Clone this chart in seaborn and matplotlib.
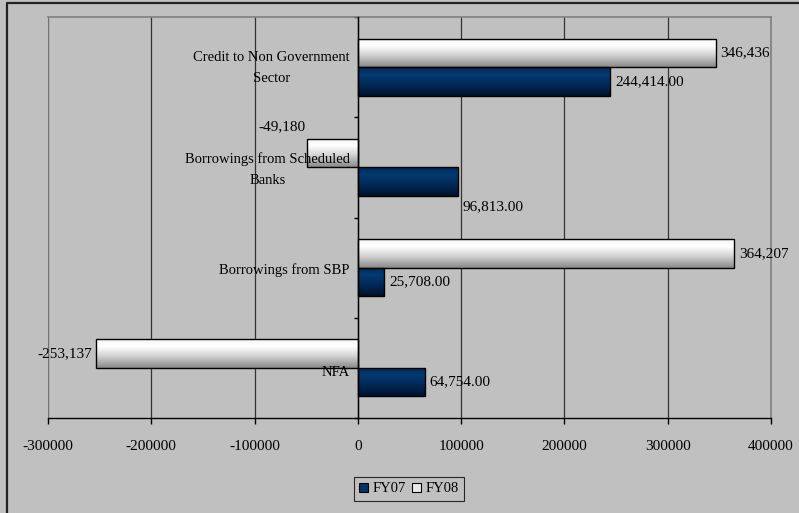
import numpy as np
import pandas as pd
import matplotlib
matplotlib.use("Agg")
import matplotlib.pyplot as plt
from matplotlib.patches import Patch
from matplotlib.lines import Line2D
import seaborn as sns

# ---- data ----
categories = ["Credit to Non Government\nSector", "Borrowings from Scheduled\nBanks",
              "Borrowings from SBP", "NFA"]
fy07 = [244414.00, 96813.00, 25708.00, 64754.00]
fy08 = [346436, -49180, 364207, -253137]
series = ["FY07", "FY08"]
xticks = [-300000, -200000, -100000, 0, 100000, 200000, 300000, 400000]

sns.set_theme(style="white")
plt.rcParams['font.family'] = ['Liberation Serif', 'DejaVu Serif']
plt.rcParams['text.color'] = 'black'
plt.rcParams['xtick.color'] = 'black'
plt.rcParams['ytick.color'] = 'black'

BG = "#C0C0C0"
df = pd.DataFrame({
    "cat": categories * 2,
    "val": fy07 + fy08,
    "series": ["FY07"] * 4 + ["FY08"] * 4,
})

fig = plt.figure(figsize=(7.99, 5.13), dpi=100, facecolor=BG)
ax = fig.add_axes([48/799, 1-418/513, (771-48)/799, (418-17)/513])
ax.set_facecolor(BG)

hue_order = ["FY08", "FY07"]
sns.barplot(data=df, y="cat", x="val", hue="series", hue_order=hue_order,
            order=categories, orient="h", width=0.57,
            palette={"FY07": "#003366", "FY08": "#F0F0F0"},
            edgecolor="black", linewidth=1.0, legend=False, ax=ax, zorder=3)

# gradients
def grad_img(stops):
    t = np.linspace(0, 1, 64)
    pos = [s[0] for s in stops]
    cols = np.array([matplotlib.colors.to_rgb(s[1]) for s in stops])
    img = np.stack([np.interp(t, pos, cols[:, k]) for k in range(3)], axis=1)
    return img[:, None, :]

grads = {
    "FY08": grad_img([(0, "#F4F4F4"), (0.25, "#FFFFFF"), (0.55, "#D8D8D8"), (1.0, "#8A8A8A")]),
    "FY07": grad_img([(0, "#002A58"), (0.25, "#043B72"), (0.6, "#002A58"), (1.0, "#00112A")]),
}

label_info = {}
for hue, cont in zip(hue_order, ax.containers):
    for i, bar in enumerate(cont):
        x0, y0 = bar.get_x(), bar.get_y()
        w, h = bar.get_width(), bar.get_height()
        xl, xr = min(x0, x0 + w), max(x0, x0 + w)
        im = ax.imshow(grads[hue], extent=(xl, xr, y0 + h, y0), origin="upper",
                       aspect="auto", zorder=3, interpolation="bilinear")
        im.set_clip_path(bar)
        bar.set_facecolor("none")
        bar.set_zorder(4)
        label_info[(hue, i)] = (x0 + w, y0 + h / 2)

ax.set_xlim(-300000, 400000)
ax.set_ylim(3.5, -0.5)

# data labels
offsets = {
    ("FY08", 1): (-2, 26, "right"),
    ("FY07", 1): (5, -25, "left"),
}
vals = {"FY07": fy07, "FY08": fy08}
for (hue, i), (xe, yc) in label_info.items():
    v = vals[hue][i]
    txt = f"{v:,.2f}" if hue == "FY07" else f"{v:,.0f}"
    if (hue, i) in offsets:
        dx, dy, ha = offsets[(hue, i)]
    else:
        dx, dy, ha = (5, 0, "left") if v >= 0 else (-4, 0, "right")
    ax.annotate(txt, (xe, yc), xytext=(dx, dy), textcoords="offset pixels",
                ha=ha, va="center", fontsize=11, color="black", zorder=6)

# axes styling
ax.set_xticks(xticks)
ax.set_xticklabels([str(t) for t in xticks], fontsize=11)
ax.tick_params(axis="x", direction="out", length=4, width=1, color="black",
               pad=12, bottom=True)
ax.grid(axis="x", color="#333333", linewidth=0.9, zorder=0)
ax.set_axisbelow(True)
ax.set_xlabel("")
ax.set_ylabel("")

ax.spines["left"].set_position(("data", 0))
ax.spines["left"].set_color("black")
ax.spines["left"].set_linewidth(1.0)
ax.spines["left"].set_zorder(5)
ax.spines["bottom"].set_color("black")
ax.spines["bottom"].set_linewidth(1.0)
for s in ["top", "right"]:
    ax.spines[s].set_color("#808080")
    ax.spines[s].set_linewidth(1.2)
ax.axvline(-300000, color="#808080", linewidth=1.2, zorder=1)

# category labels drawn above the bars (as in the reference)
ax.set_yticks(range(len(categories)))
ax.set_yticklabels([])
ax.tick_params(axis="y", which="major", length=0, left=True)
ax.set_yticks([-0.5, 0.5, 1.5, 2.5, 3.5], minor=True)
ax.tick_params(axis="y", which="minor", length=3, width=1, color="black",
               direction="out", left=True)
ylab_dy = {0: 1, 1: 2, 2: 2, 3: 5}
for i, c in enumerate(categories):
    ax.annotate(c, (0, i), xytext=(-8, -ylab_dy[i]), textcoords="offset pixels",
                ha="right", va="center", multialignment="center", linespacing=1.8,
                fontsize=10.5, color="black", zorder=7)

# legend
handles = [Patch(facecolor="#003366", edgecolor="black", linewidth=0.8, label="FY07"),
           Patch(facecolor="#E8E8E8", edgecolor="black", linewidth=0.8, label="FY08")]
leg = fig.legend(handles=handles, loc="center", bbox_to_anchor=(409/799, 1-489/513),
                 ncol=2, fontsize=10.5, frameon=True, fancybox=False,
                 handlelength=0.65, handleheight=0.65, handletextpad=0.3,
                 columnspacing=0.4, borderpad=0.35)
leg.get_frame().set_facecolor(BG)
leg.get_frame().set_edgecolor("black")
leg.get_frame().set_linewidth(0.8)

# outer border (left and top visible)
fig.add_artist(Line2D([7/799, 7/799, 1.0], [0.0, 1-3/513, 1-3/513],
                      transform=fig.transFigure, color="#222222", linewidth=1.6))

fig.savefig("out.png", dpi=100, facecolor=BG)
